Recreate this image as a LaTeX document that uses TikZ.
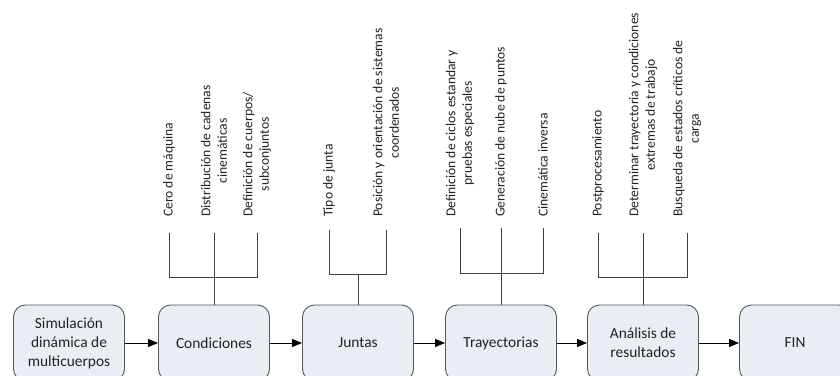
\documentclass[tikz,border=0pt]{standalone}
\usepackage{fontspec}
\setmainfont{Carlito}
\usetikzlibrary{arrows.meta}
\definecolor{boxfill}{HTML}{E9EDF4}
\definecolor{boxline}{HTML}{555555}
\definecolor{txt}{HTML}{222222}
\tikzset{
  stage/.style={draw=boxline, line width=0.9pt, fill=boxfill, rounded corners=12pt,
    minimum width=111pt, minimum height=76pt, inner sep=0pt, align=center,
    text=txt, font=\fontsize{15.4}{19}\selectfont},
  lab/.style={rotate=90, anchor=west, inner sep=0pt, align=center, text=txt,
    font=\fontsize{13.6}{16.5}\selectfont},
  arr/.style={line width=0.9pt, draw=black, -{Triangle[length=10pt,width=8pt]}},
  tree/.style={line width=0.9pt, draw=black!75},
}
\begin{document}
\begin{tikzpicture}[x=1pt,y=-1pt]
\useasboundingbox (0,0) rectangle (840,375);
% stages
\node[stage] (b1) at (69,343) {Simulación\\dinámica de\\multicuerpos};
\node[stage] (b2) at (214,343) {Condiciones};
\node[stage] (b3) at (358,343) {Juntas};
\node[stage] (b4) at (501,343) {Trayectorias};
\node[stage] (b5) at (643,343) {Análisis de\\resultados};
\node[stage] (b6) at (795,343) {FIN};
% arrows
\draw[arr] (b1) -- (b2);
\draw[arr] (b2) -- (b3);
\draw[arr] (b3) -- (b4);
\draw[arr] (b4) -- (b5);
\draw[arr] (b5) -- (b6);
% labels
\node[lab] (l1) at (169,217) {Cero de máquina};
\node[lab] (l2) at (214,217) {Distribución de cadenas\\cinemáticas};
\node[lab] (l3) at (257,217) {Definición de cuerpos/\\subconjuntos};
\node[lab] (l4) at (329,217) {Tipo de junta};
\node[lab] (l5) at (386,217) {Posición y orientación de sistemas\\coordenados};
\node[lab] (l6) at (460,217) {Definición de ciclos estandar y\\pruebas especiales};
\node[lab] (l7) at (501,217) {Generación de nube de puntos};
\node[lab] (l8) at (543,217) {Cinemática inversa};
\node[lab] (l9) at (598,217) {Postprocesamiento};
\node[lab] (l10) at (643,217) {Determinar trayectoria y condiciones\\extremas de trabajo};
\node[lab] (l11) at (687,217) {Busqueda de estados críticos de\\carga};
% trees
\coordinate (t1) at (169,233); \coordinate (t2) at (214,233); \coordinate (t3) at (257,233);
\draw[tree] (t1) -- (169,277) -- (257,277) -- (t3);
\draw[tree] (t2) -- (b2.north);
\coordinate (t4) at (329,230); \coordinate (t5) at (386,230);
\draw[tree] (t4) -- (329,274) -- (386,274) -- (t5);
\draw[tree] (358,274) -- (b3.north);
\coordinate (t6) at (460,228); \coordinate (t7) at (501,228); \coordinate (t8) at (543,228);
\draw[tree] (t6) -- (460,273) -- (543,273) -- (t8);
\draw[tree] (t7) -- (b4.north);
\coordinate (t9) at (598,233); \coordinate (t10) at (643,233); \coordinate (t11) at (687,233);
\draw[tree] (t9) -- (598,277) -- (687,277) -- (t11);
\draw[tree] (t10) -- (b5.north);
\end{tikzpicture}
\end{document}
